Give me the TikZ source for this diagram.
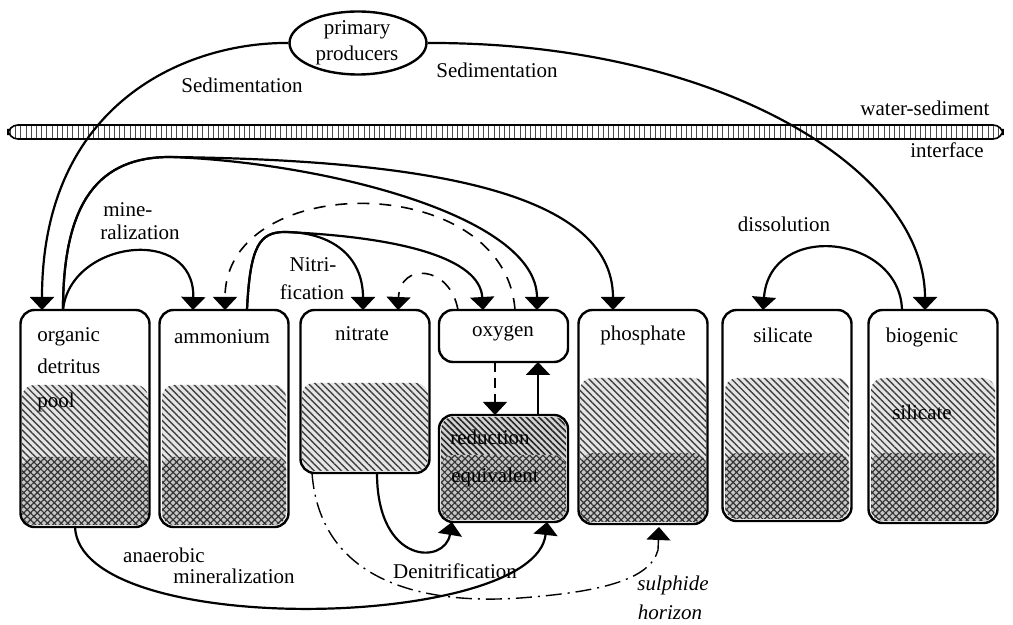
\documentclass[tikz,border=0pt]{standalone}
\usepackage{fontspec}
\setmainfont{Liberation Serif}
\usetikzlibrary{arrows.meta,shapes.geometric,patterns.meta}

\begin{document}
\begin{tikzpicture}[x=0.5pt, y=-0.5pt,
		every node/.style={font=\fontsize{10.5pt}{13pt}\selectfont, inner sep=0pt},
		pool/.style={draw, line width=1.2pt, rounded corners=7pt, minimum width=64.5pt, anchor=north, outer sep=0pt},
		flux/.style={line width=1.1pt, -{Triangle[width=12pt,length=6.5pt,fill=black]}},
		dflux/.style={flux, line width=0.8pt, dash pattern=on 6pt off 5pt},
		horizon/.style={line width=0.7pt, dash pattern=on 8pt off 3pt on 1pt off 3pt},
		light/.style={rounded corners=6pt, preaction={fill=gray!20}, pattern={Lines[angle=-45,distance=2.4pt,line width=0.7pt]}, pattern color=black!75},
		dark/.style={rounded corners=6pt, preaction={fill=gray!35}, pattern={Lines[angle=-45,distance=2.2pt,line width=0.8pt]}, pattern color=black!85},
		cross/.style={rounded corners=6pt, preaction={fill=gray!45}, pattern={Hatch[angle=45,distance=2.4pt,line width=0.6pt]}, pattern color=black!80}
	]
	\useasboundingbox (0,0) rectangle (1013,625);

	\foreach \xa/\xb/\ya/\yb/\yc in {22/148/385/457/525, 162/286/385/457/525, 580/706/378/453/522, 725/849/378/453/519, 871/995/378/453/521}{
		\fill[light] (\xa,\ya) rectangle (\xb,\yc);
		\fill[cross] (\xa,\yb) rectangle (\xb,\yc);
	}
	\fill[light] (302,383) rectangle (428,471);
	\fill[dark] (441,417) rectangle (566,520);
	\fill[cross] (441,455) rectangle (566,520);

	\draw[line width=0.8pt, rounded corners=5pt, preaction={fill=white}, pattern={Lines[angle=90,distance=2.6pt,line width=0.35pt]}, pattern color=black!70] (8,125) rectangle (1003,139);

	\node[pool, minimum height=108.5pt] (org) at (85,310) {};
	\node[pool, minimum height=108.5pt] (amm) at (224,310) {};
	\node[pool, minimum height=81.5pt] (nit) at (365,310) {};
	\node[pool, minimum height=26pt] (oxy) at (503.5,310) {};
	\node[pool, minimum height=53.5pt] (red) at (503.5,415) {};
	\node[pool, minimum height=107pt] (pho) at (643,310) {};
	\node[pool, minimum height=105.5pt] (sil) at (787,310) {};
	\node[pool, minimum height=106.5pt] (bio) at (933,310) {};
	\node[draw, ellipse, line width=1.2pt, minimum width=68.5pt, minimum height=31.5pt] (pp) at (358,43) {};

	\node[align=center] (ppA) at (357,43) {primary\\producers};
	\node[anchor=west] (orgA) at (37,337) {organic};
	\node[anchor=west] (orgB) at (37,366) {detritus};
	\node[anchor=west] (orgC) at (37,402) {pool};
	\node (ammA) at (222,337) {ammonium};
	\node (nitA) at (362,334) {nitrate};
	\node (oxyA) at (503,333) {oxygen};
	\node (redA) at (490,437) {reduction};
	\node (redB) at (495,477) {equivalent};
	\node (phoA) at (643,335) {phosphate};
	\node (silA) at (783,335) {silicate};
	\node (bioA) at (922,337) {biogenic};
	\node (bioB) at (922,412) {silicate};
	\node (sedL) at (242,85) {Sedimentation};
	\node (sedR) at (497,70) {Sedimentation};
	\node (wsA) at (925,108) {water-sediment};
	\node (wsB) at (947,150) {interface};
	\node[anchor=west] (minA) at (103,210) {mine-};
	\node[anchor=west] (minB) at (100,232) {ralization};
	\node (nitrA) at (313,265) {Nitri-};
	\node (nitrB) at (312,292) {fication};
	\node (dis) at (784,224) {dissolution};
	\node (anA) at (164,555) {anaerobic};
	\node (anB) at (234,576) {mineralization};
	\node (den) at (455,571) {Denitrification};
	\node (sulA) at (673,585) {\itshape sulphide};
	\node (sulB) at (670,612) {\itshape horizon};

	\coordinate (orgfork) at (170,157);
	\coordinate (ammfork) at (285,232);
	\coordinate (sulfoot) at (658,550);

	\draw[flux] (pp.west) .. controls (190,42) and (42,100) .. ([shift={(-43,0)}]org.north);
	\draw[flux] (pp.east) .. controls (720,42) and (925,170) .. ([shift={(-8,0)}]bio.north);
	\draw[flux] ([shift={(-22,0)}]org.north) .. controls (70,240) and (195,225) .. ([shift={(-31,0)}]amm.north);
	\draw[flux] ([shift={(-22,0)}]org.north) .. controls (63,200) and (100,157) .. (orgfork) .. controls (320,162) and (537,215) .. ([shift={(33.5,0)}]oxy.north);
	\draw[flux] ([shift={(-22,0)}]org.north) .. controls (63,200) and (100,157) .. (orgfork) .. controls (420,160) and (613,190) .. ([shift={(-30,0)}]pho.north);
	\draw[dflux] ([shift={(11.5,0)}]oxy.north) .. controls (505,170) and (225,170) .. ([shift={(1,0)}]amm.north);
	\draw[flux] ([shift={(23,0)}]amm.north) .. controls (250,245) and (260,232) .. (ammfork) .. controls (330,232) and (363,255) .. ([shift={(-2,0)}]nit.north);
	\draw[flux] ([shift={(23,0)}]amm.north) .. controls (250,245) and (260,232) .. (ammfork) .. controls (400,237) and (480,258) .. ([shift={(-20.5,0)}]oxy.north);
	\draw[dflux] ([shift={(-45.5,0)}]oxy.north) .. controls (450,265) and (400,262) .. ([shift={(33,0)}]nit.north);
	\draw[flux] ([shift={(-31,0)}]bio.north) .. controls (900,235) and (770,220) .. ([shift={(-24,0)}]sil.north);
	\draw[dflux, line width=0.6pt, dash pattern=on 5pt off 3pt] ([shift={(-8.5,0)}]oxy.south) -- ([shift={(-8.5,0)}]red.north);
	\draw[flux] ([shift={(34.5,0)}]red.north) -- ([shift={(34.5,0)}]oxy.south);
	\draw[flux] ([shift={(12,0)}]nit.south) .. controls (377,565) and (445,565) .. ([shift={(-51.5,0)}]red.south);
	\draw[flux] ([shift={(-10,0)}]org.south) .. controls (80,640) and (535,630) .. ([shift={(43.5,0)}]red.south);
	\draw[horizon] ([shift={(-53,0)}]nit.south) .. controls (320,580) and (420,605) .. (520,598) .. controls (600,592) and (650,580) .. (sulfoot);
	\draw[flux, line width=0.7pt] (sulfoot) -- ([shift={(16,3)}]pho.south);
\end{tikzpicture}
\end{document}
